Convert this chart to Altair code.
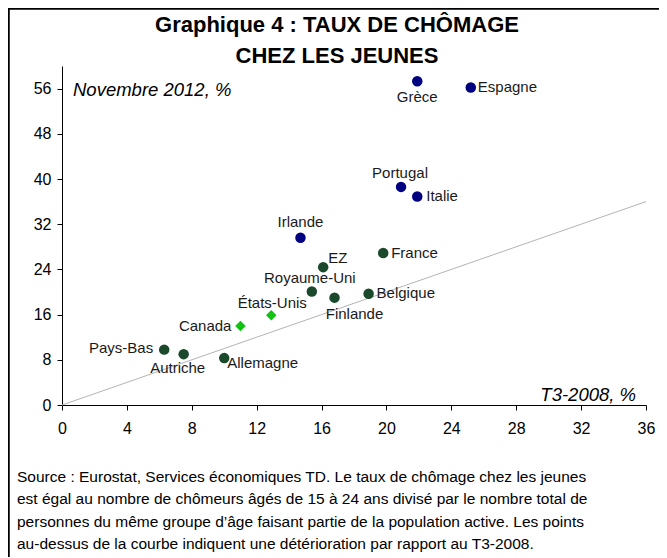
import altair as alt
import pandas as pd

# ---- data ----
countries = ["Grèce", "Espagne", "Portugal", "Italie", "Irlande", "France", "EZ",
             "Royaume-Uni", "Finlande", "Belgique", "États-Unis", "Canada",
             "Pays-Bas", "Autriche", "Allemagne"]
t3_2008 = [21.9, 25.2, 20.9, 21.9, 14.7, 19.8, 16.1, 15.4, 16.8, 18.9, 12.9, 11.0, 6.3, 7.5, 10.0]
nov_2012 = [57.3, 56.2, 38.6, 36.9, 29.6, 26.9, 24.4, 20.1, 19.0, 19.7, 15.9, 14.0, 9.8, 9.0, 8.3]
groups = ["périphérie", "périphérie", "périphérie", "périphérie", "périphérie",
          "europe", "europe", "europe", "europe", "europe",
          "amérique", "amérique", "europe", "europe", "europe"]
x_ticks = [0, 4, 8, 12, 16, 20, 24, 28, 32, 36]
y_ticks = [0, 8, 16, 24, 32, 40, 48, 56]
ref_line_x = [0, 36]

title_lines = ["Graphique 4 : TAUX DE CHÔMAGE", "CHEZ LES JEUNES"]
y_caption = "Novembre 2012, %"
x_caption = "T3-2008, %"
source_lines = [
    "Source : Eurostat, Services économiques TD. Le taux de chômage chez les jeunes",
    "est égal au nombre de chômeurs âgés de 15 à 24 ans divisé par le nombre total de",
    "personnes du même groupe d’âge faisant partie de la population active. Les points",
    "au-dessus de la courbe indiquent une détérioration par rapport au T3-2008.",
]

# ---- label placement (style) ----
label_style = {
    "Grèce": ("center", 0, 16),
    "Espagne": ("left", 7, 0),
    "Portugal": ("center", -1, -14),
    "Italie": ("left", 9, -1),
    "Irlande": ("center", 0, -16),
    "France": ("left", 8, 0),
    "EZ": ("left", 5, -9),
    "Royaume-Uni": ("center", -2, -13),
    "Finlande": ("center", 20, 16),
    "Belgique": ("left", 8, -1),
    "États-Unis": ("center", 1, -12),
    "Canada": ("right", -9, 0),
    "Pays-Bas": ("right", -11, -2),
    "Autriche": ("center", -6, 14),
    "Allemagne": ("left", 3, 5),
}

df = pd.DataFrame({"pays": countries, "x": t3_2008, "y": nov_2012, "groupe": groups})
ref = pd.DataFrame({"x": ref_line_x, "y": ref_line_x})

FONT = "Liberation Sans"
W, H = 584, 339

xscale = alt.Scale(domain=[0, 36], nice=False, zero=True)
yscale = alt.Scale(domain=[0, 60], nice=False, zero=True)

xaxis = alt.Axis(values=x_ticks, title=None, grid=False, domainColor="black",
                 tickColor="black", tickSize=5, labelFontSize=16, labelFont=FONT,
                 labelColor="black", labelPadding=10, labelFlush=False)
yaxis = alt.Axis(values=y_ticks, title=None, grid=False, domainColor="black",
                 tickColor="black", tickSize=5, labelFontSize=16, labelFont=FONT,
                 labelColor="black", labelPadding=6)

base = alt.Chart(df)

line = alt.Chart(ref).mark_line(color="#b4b4b4", strokeWidth=1).encode(
    x=alt.X("x:Q", scale=xscale, axis=xaxis),
    y=alt.Y("y:Q", scale=yscale, axis=yaxis),
)

circles = base.transform_filter(alt.datum.groupe != "amérique").mark_point(
    shape="circle", filled=True, opacity=1, size=110
).encode(
    x=alt.X("x:Q", scale=xscale),
    y=alt.Y("y:Q", scale=yscale),
    color=alt.Color("groupe:N", scale=alt.Scale(domain=["périphérie", "europe", "amérique"],
                                                range=["#000080", "#1a4a2b", "#12c212"]),
                    legend=None),
)

diamonds = base.transform_filter(alt.datum.groupe == "amérique").mark_point(
    shape="diamond", filled=True, opacity=1, size=110, color="#12c212"
).encode(
    x=alt.X("x:Q", scale=xscale),
    y=alt.Y("y:Q", scale=yscale),
)

label_layers = []
for name, (align, dx, dy) in label_style.items():
    label_layers.append(
        base.transform_filter(alt.datum.pays == name).mark_text(
            align=align, baseline="middle", dx=dx, dy=dy, fontSize=15,
            font=FONT, color="#1a1a1a"
        ).encode(
            x=alt.X("x:Q", scale=xscale),
            y=alt.Y("y:Q", scale=yscale),
            text="pays:N",
        )
    )

one = pd.DataFrame({"k": [0]})

title1 = alt.Chart(one).mark_text(fontSize=22, fontWeight="bold", font=FONT,
                                   align="center", baseline="middle", color="black").encode(
    x=alt.value(275), y=alt.value(-41), text=alt.value(title_lines[0]))
title2 = alt.Chart(one).mark_text(fontSize=22, fontWeight="bold", font=FONT,
                                   align="center", baseline="middle", color="black").encode(
    x=alt.value(275), y=alt.value(-10), text=alt.value(title_lines[1]))

ycap = alt.Chart(one).mark_text(fontSize=18.5, fontStyle="italic", font=FONT,
                                 align="left", baseline="middle", color="black").encode(
    x=alt.value(11), y=alt.value(24), text=alt.value(y_caption))
xcap = alt.Chart(one).mark_text(fontSize=18.5, fontStyle="italic", font=FONT,
                                 align="right", baseline="middle", color="black").encode(
    x=alt.value(574), y=alt.value(-10 + H), text=alt.value(x_caption))

source = alt.Chart(one).mark_text(fontSize=15.5, font=FONT, align="left", baseline="middle",
                                   lineHeight=22.3, color="black").encode(
    x=alt.value(-45), y=alt.value(H + 72), text=alt.value(source_lines))

border_left = alt.Chart(one).mark_rule(color="black", strokeWidth=2.5).encode(
    x=alt.value(-53.5), y=alt.value(-57.5), y2=alt.value(H + 160))
border_top = alt.Chart(one).mark_rule(color="black", strokeWidth=2.5).encode(
    x=alt.value(-54.5), x2=alt.value(W + 40), y=alt.value(-57.5))

chart = alt.layer(
    line, circles, diamonds, *label_layers, title1, title2, ycap, xcap, source,
    border_left, border_top
).properties(
    width=W, height=H,
    autosize=alt.AutoSizeParams(type="none"),
    padding={"left": 54, "top": 58, "right": 13, "bottom": 152},
).configure_view(stroke=None)

chart.save("out.html", embed_options={"renderer": "svg", "actions": False})
